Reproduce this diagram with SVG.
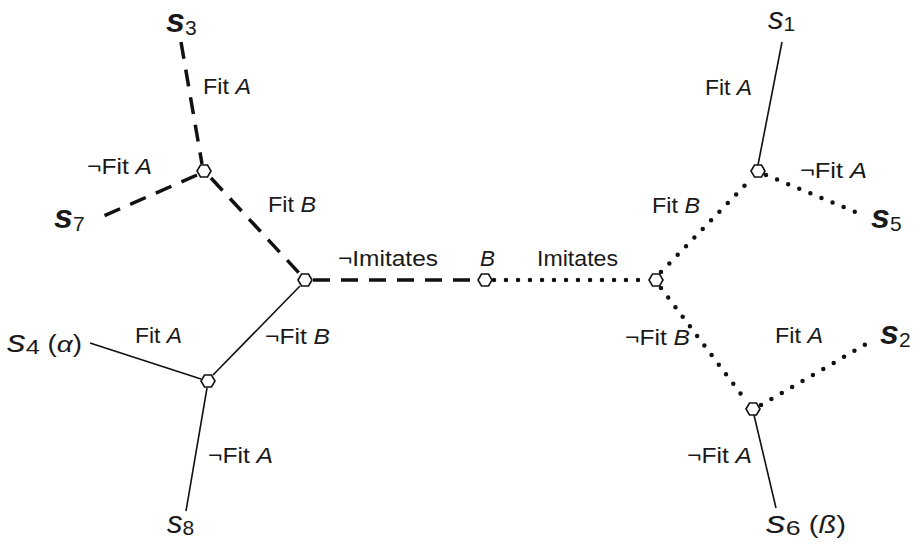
<svg xmlns="http://www.w3.org/2000/svg" width="920" height="545" viewBox="0 0 920 545">
<style>
text { font-family: "Liberation Sans", Arial, sans-serif; fill: #1a1a1a; }
.lbl { font-size: 21.5px; }
.i { font-style: italic; }
.s { font-style: italic; font-size: 31px; }
.sb { font-style: italic; font-weight: bold; font-size: 34px; }
.sub { font-size: 21px; font-style: normal; font-weight: normal; }
.par { font-size: 23px; }
.dash { fill: none; stroke: #111; stroke-width: 3.5; stroke-dasharray: 17 11; }
.dot { fill: none; stroke: #111; stroke-width: 4.5; stroke-dasharray: 0 12; stroke-linecap: round; }
.solid { fill: none; stroke: #111; stroke-width: 1.6; }
.hex { fill: #fff; stroke: #111; stroke-width: 1.6; }
</style>
<defs>
<polygon id="hx" points="-7,0 -3.5,-6 3.5,-6 7,0 3.5,6 -3.5,6"/>
</defs>
<g id="connectors">
<line class="dash" x1="181" y1="42" x2="202" y2="164"/>
<line class="dash" x1="197" y1="175" x2="99" y2="218"/>
<line class="dash" x1="211" y1="178" x2="299" y2="273"/>
<line class="dash" x1="313" y1="280" x2="478" y2="280"/>
<line class="dot" x1="494" y1="280" x2="648" y2="280"/>
<line class="dot" x1="661" y1="272" x2="752" y2="178"/>
<line class="dot" x1="766" y1="175" x2="858" y2="213"/>
<line class="dot" x1="661" y1="288" x2="747" y2="402"/>
<line class="dot" x1="761" y1="405" x2="868" y2="343"/>
<line class="solid" x1="782" y1="42" x2="758" y2="165"/>
<line class="solid" x1="754" y1="415" x2="776" y2="508"/>
<line class="solid" x1="300" y1="286" x2="213" y2="375"/>
<line class="solid" x1="90" y1="343" x2="201" y2="379"/>
<line class="solid" x1="207" y1="388" x2="186" y2="511"/>
</g>
<g id="edge-labels">
<text class="lbl" x="203" y="94" textLength="48" lengthAdjust="spacingAndGlyphs">Fit <tspan class="i">A</tspan></text>
<text class="lbl" x="87" y="174" textLength="65" lengthAdjust="spacingAndGlyphs">¬Fit <tspan class="i">A</tspan></text>
<text class="lbl" x="268" y="212" textLength="48" lengthAdjust="spacingAndGlyphs">Fit <tspan class="i">B</tspan></text>
<text class="lbl" x="338" y="266" textLength="100" lengthAdjust="spacingAndGlyphs">¬Imitates</text>
<text class="lbl i" x="480" y="266" textLength="15" lengthAdjust="spacingAndGlyphs">B</text>
<text class="lbl" x="537" y="266" textLength="81" lengthAdjust="spacingAndGlyphs">Imitates</text>
<text class="lbl" x="135" y="343" textLength="47" lengthAdjust="spacingAndGlyphs">Fit <tspan class="i">A</tspan></text>
<text class="lbl" x="265" y="344" textLength="65" lengthAdjust="spacingAndGlyphs">¬Fit <tspan class="i">B</tspan></text>
<text class="lbl" x="208" y="463" textLength="65" lengthAdjust="spacingAndGlyphs">¬Fit <tspan class="i">A</tspan></text>
<text class="lbl" x="705" y="95" textLength="47" lengthAdjust="spacingAndGlyphs">Fit <tspan class="i">A</tspan></text>
<text class="lbl" x="800" y="178" textLength="67" lengthAdjust="spacingAndGlyphs">¬Fit <tspan class="i">A</tspan></text>
<text class="lbl" x="652" y="213" textLength="48" lengthAdjust="spacingAndGlyphs">Fit <tspan class="i">B</tspan></text>
<text class="lbl" x="625" y="345" textLength="65" lengthAdjust="spacingAndGlyphs">¬Fit <tspan class="i">B</tspan></text>
<text class="lbl" x="775" y="343" textLength="48" lengthAdjust="spacingAndGlyphs">Fit <tspan class="i">A</tspan></text>
<text class="lbl" x="687" y="463" textLength="65" lengthAdjust="spacingAndGlyphs">¬Fit <tspan class="i">A</tspan></text>
</g>
<g id="n1"><use href="#hx" class="hex" x="204" y="171"/></g>
<g id="n2"><use href="#hx" class="hex" x="305" y="280"/></g>
<g id="n3"><use href="#hx" class="hex" x="208" y="381"/></g>
<g id="nB"><use href="#hx" class="hex" x="485" y="280"/></g>
<g id="n4"><use href="#hx" class="hex" x="656" y="280"/></g>
<g id="n5"><use href="#hx" class="hex" x="758" y="171"/></g>
<g id="n6"><use href="#hx" class="hex" x="753" y="409"/></g>
<g id="s3"><text x="166" y="32"><tspan class="sb">s</tspan><tspan class="sub" dy="3">3</tspan></text></g>
<g id="s7"><text x="54" y="228"><tspan class="sb">s</tspan><tspan class="sub" dy="3">7</tspan></text></g>
<g id="s4"><text x="7" y="352" textLength="75" lengthAdjust="spacingAndGlyphs"><tspan class="s">s</tspan><tspan class="sub" dy="2">4</tspan><tspan class="par" dy="-2"> (</tspan><tspan class="par i">α</tspan><tspan class="par">)</tspan></text></g>
<g id="s8"><text x="167" y="533"><tspan class="s">s</tspan><tspan class="sub" dy="2">8</tspan></text></g>
<g id="s1"><text x="768" y="29"><tspan class="s">s</tspan><tspan class="sub" dy="2">1</tspan></text></g>
<g id="s5"><text x="871" y="228"><tspan class="sb">s</tspan><tspan class="sub" dy="3">5</tspan></text></g>
<g id="s2"><text x="880" y="344"><tspan class="sb">s</tspan><tspan class="sub" dy="3">2</tspan></text></g>
<g id="s6"><text x="766" y="533" textLength="80" lengthAdjust="spacingAndGlyphs"><tspan class="s">s</tspan><tspan class="sub" dy="2">6</tspan><tspan class="par" dy="-2"> (</tspan><tspan class="par i">ß</tspan><tspan class="par">)</tspan></text></g>
</svg>
